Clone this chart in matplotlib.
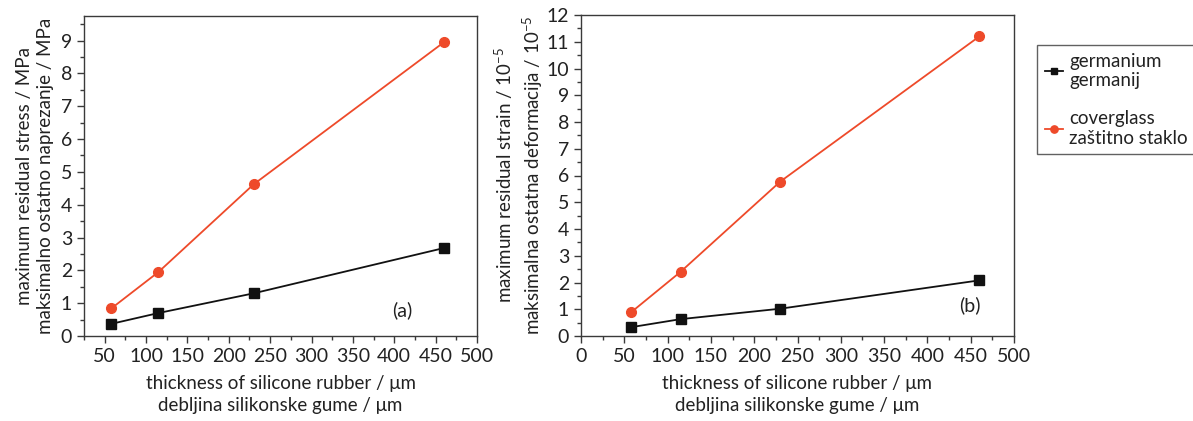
import numpy as np
import matplotlib.pyplot as plt
from matplotlib.ticker import MultipleLocator

# thickness of silicone rubber (um)
thickness = [58, 115, 230, 460]

# (a) maximum residual stress, MPa
stress_ge = [0.37, 0.70, 1.30, 2.68]
stress_cg = [0.84, 1.95, 4.62, 8.95]

# (b) maximum residual strain, 10^-5
strain_ge = [0.33, 0.63, 1.02, 2.08]
strain_cg = [0.89, 2.40, 5.77, 11.2]

labels = ['germanium\ngermanij', 'coverglass\nzaštitno staklo']

plt.rcParams['font.family'] = ['Lato', 'DejaVu Sans']
plt.rcParams['mathtext.fontset'] = 'custom'
plt.rcParams['mathtext.rm'] = 'Lato'
plt.rcParams['mathtext.default'] = 'regular'
grey = '#3a3a3a'
txt = '#222222'
red = '#ee4a2a'

fig = plt.figure(figsize=(11.93, 4.21), dpi=100)
ax1 = fig.add_axes([84/1193, 85/421, 393/1193, 320/421])
ax2 = fig.add_axes([581/1193, 85/421, 433/1193, 321/421])


def style(ax):
    for s in ax.spines.values():
        s.set_color(grey)
        s.set_linewidth(1.0)
    ax.tick_params(which='both', direction='out', colors=grey, labelcolor=txt,
                   top=False, right=False)
    ax.tick_params(which='major', length=5, width=1.0, labelsize=14)
    ax.tick_params(which='minor', length=3, width=1.0)
    ax.xaxis.set_major_locator(MultipleLocator(50))
    ax.xaxis.set_minor_locator(MultipleLocator(25))
    ax.yaxis.set_major_locator(MultipleLocator(1))
    ax.yaxis.set_minor_locator(MultipleLocator(0.5))
    ax.set_xlabel('thickness of silicone rubber / μm\ndebljina silikonske gume / μm',
                  fontsize=13.5, color=txt, labelpad=7, linespacing=1.4)


ax1.plot(thickness, stress_ge, '-s', color='#111111', ms=6.5, lw=1.3, label=labels[0])
ax1.plot(thickness, stress_cg, '-o', color=red, ms=7, lw=1.3, label=labels[1])
ax1.set_xlim(25, 500)
ax1.set_ylim(0, 9.75)
style(ax1)
ax1.set_ylabel('maximum residual stress / MPa\nmaksimalno ostatno naprezanje / MPa',
               fontsize=13.5, color=txt, labelpad=5, linespacing=1.3)
ax1.text(410, 0.8, '(a)', fontsize=14, color=txt, ha='center', va='center')

ax2.plot(thickness, strain_ge, '-s', color='#111111', ms=6.5, lw=1.3, label=labels[0])
ax2.plot(thickness, strain_cg, '-o', color=red, ms=7, lw=1.3, label=labels[1])
ax2.set_xlim(0, 500)
ax2.set_ylim(0, 12)
style(ax2)
ax2.set_ylabel('maximum residual strain / 10$^{-5}$\nmaksimalna ostatna deformacija / 10$^{-5}$',
               fontsize=13.5, color=txt, labelpad=1, linespacing=1.3)
ax2.text(449, 1.15, '(b)', fontsize=14, color=txt, ha='center', va='center')

leg = ax2.legend(loc='upper left', bbox_to_anchor=(1037/1193, 376/421), bbox_transform=fig.transFigure,
                 fontsize=13.5, frameon=True, fancybox=False, handlelength=1.0, markerscale=0.75,
                 handletextpad=0.3, labelspacing=1.1, borderpad=0.4, borderaxespad=0)
leg.get_frame().set_edgecolor(grey)
leg.get_frame().set_linewidth(1.0)
for t in leg.get_texts():
    t.set_color(txt)

fig.savefig('out.png', dpi=100)
